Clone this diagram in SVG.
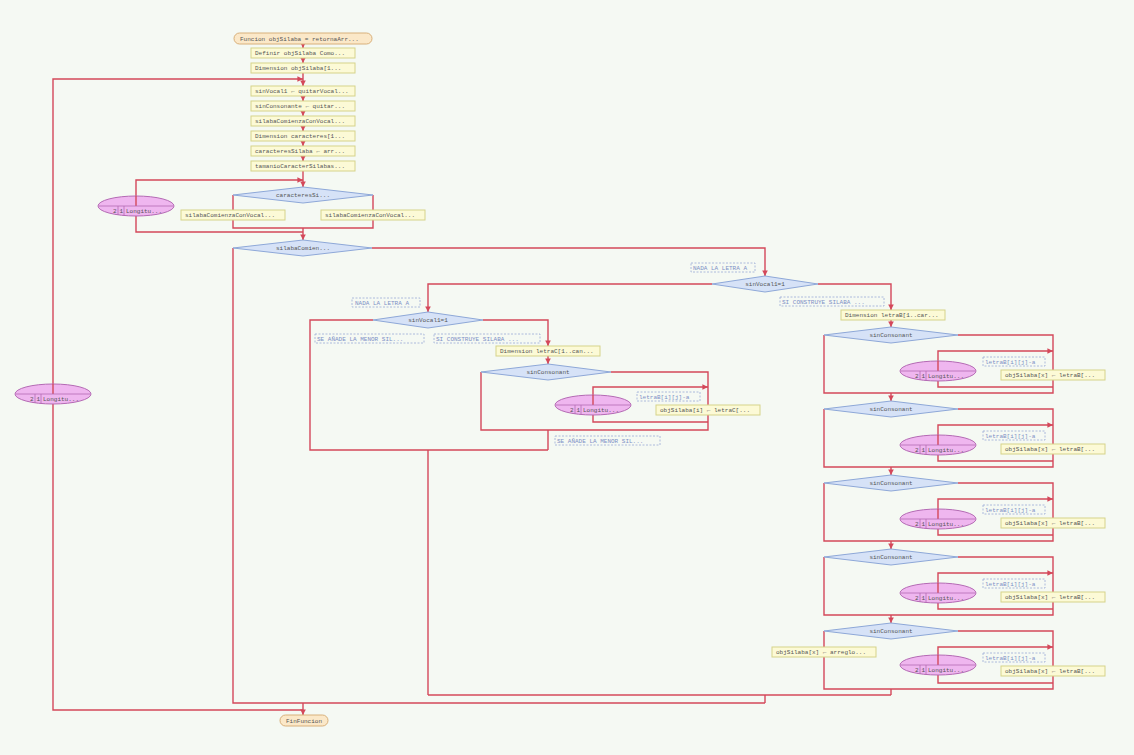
<svg xmlns="http://www.w3.org/2000/svg" width="1134" height="755" viewBox="0 0 1134 755">
<style>
.ln{stroke:#d4485a;stroke-width:1.4;fill:none}
.box{fill:#fcfad6;stroke:#d6d38a;stroke-width:1}
.dia{fill:#d6e2f7;stroke:#8ea8d8;stroke-width:1}
.ell{fill:#efb6ef;stroke:#b46ab4;stroke-width:1}
.term{fill:#fbe8c8;stroke:#d8b07a;stroke-width:1}
.cm{fill:none;stroke:#9aabd6;stroke-width:0.8;stroke-dasharray:2 1.5}
.sep{stroke:#b46ab4;stroke-width:0.8}
text{font-family:"Liberation Mono","DejaVu Sans Mono",monospace;font-size:6px;fill:#555}
text.c{fill:#7d8fc6}
text.m{text-anchor:middle}
</style>
<defs>
<marker id="ar" viewBox="0 0 6 6" refX="6" refY="3" markerWidth="4" markerHeight="4" orient="auto"><path d="M0,0 L6,3 L0,6 z" fill="#d4485a"/></marker>
<g id="para">
<ellipse class="ell" cx="0" cy="0" rx="38" ry="10"/>
<line class="ln" x1="0" y1="-10" x2="0" y2="0"/>
<line class="sep" x1="-37" y1="0" x2="37" y2="0"/>
<line class="sep" x1="-18" y1="0" x2="-18" y2="9"/>
<line class="sep" x1="-12" y1="0" x2="-12" y2="9.6"/>
<text x="-23" y="7">2</text><text x="-16.5" y="7">1</text><text x="-10" y="7">Longitu...</text>
</g>
</defs>
<rect width="1134" height="755" fill="#f5f9f3"/>

<g id="connectors">
<path class="ln" d="M303,44 V48" marker-end="url(#ar)"/>
<path class="ln" d="M303,58 V63" marker-end="url(#ar)"/>
<path class="ln" d="M303,73 V86" marker-end="url(#ar)"/>
<path class="ln" d="M303,96 V101" marker-end="url(#ar)"/>
<path class="ln" d="M303,111 V116" marker-end="url(#ar)"/>
<path class="ln" d="M303,126 V131" marker-end="url(#ar)"/>
<path class="ln" d="M303,141 V146" marker-end="url(#ar)"/>
<path class="ln" d="M303,156 V161" marker-end="url(#ar)"/>
<path class="ln" d="M303,171 V187" marker-end="url(#ar)"/>
<path class="ln" d="M53,384 V79 H303" marker-end="url(#ar)"/>
<path class="ln" d="M53,404 V710 H303"/>
<path class="ln" d="M136,196 V180 H303" marker-end="url(#ar)"/>
<path class="ln" d="M136,216 V232 H303"/>
<path class="ln" d="M233,195 V228 H373 V195"/>
<path class="ln" d="M303,228 V240" marker-end="url(#ar)"/>
<path class="ln" d="M233,248 V703 H765"/>
<path class="ln" d="M372,248 H765 V276" marker-end="url(#ar)"/>
<path class="ln" d="M303,703 V715" marker-end="url(#ar)"/>
<path class="ln" d="M712,284 H428 V312" marker-end="url(#ar)"/>
<path class="ln" d="M818,284 H891 V310" marker-end="url(#ar)"/>
<path class="ln" d="M891,320 V327" marker-end="url(#ar)"/>
<path class="ln" d="M428,695 H891"/>
<path class="ln" d="M765,695 V703"/>
<path class="ln" d="M373,320 H310 V450 H548"/>
<path class="ln" d="M483,320 H548 V346" marker-end="url(#ar)"/>
<path class="ln" d="M548,356 V364" marker-end="url(#ar)"/>
<path class="ln" d="M428,450 V695"/>
<path class="ln" d="M481,372 V430 H708 V372 H611"/>
<path class="ln" d="M548,430 V450"/>
<path class="ln" d="M593,395 V387 H708" marker-end="url(#ar)"/>
<path class="ln" d="M593,415 V422 H708"/>
<path class="ln" d="M824,335 V393 H1053 V335 H958"/>
<path class="ln" d="M938,361 V351 H1053" marker-end="url(#ar)"/>
<path class="ln" d="M938,381 V387 H1053"/>
<path class="ln" d="M891,393 V401" marker-end="url(#ar)"/>
<path class="ln" d="M824,409 V467 H1053 V409 H958"/>
<path class="ln" d="M938,435 V425 H1053" marker-end="url(#ar)"/>
<path class="ln" d="M938,455 V461 H1053"/>
<path class="ln" d="M891,467 V475" marker-end="url(#ar)"/>
<path class="ln" d="M824,483 V541 H1053 V483 H958"/>
<path class="ln" d="M938,509 V499 H1053" marker-end="url(#ar)"/>
<path class="ln" d="M938,529 V535 H1053"/>
<path class="ln" d="M891,541 V549" marker-end="url(#ar)"/>
<path class="ln" d="M824,557 V615 H1053 V557 H958"/>
<path class="ln" d="M938,583 V573 H1053" marker-end="url(#ar)"/>
<path class="ln" d="M938,603 V609 H1053"/>
<path class="ln" d="M891,615 V623" marker-end="url(#ar)"/>
<path class="ln" d="M824,631 V689 H1053 V631 H958"/>
<path class="ln" d="M938,655 V647 H1053" marker-end="url(#ar)"/>
<path class="ln" d="M938,675 V683 H1053"/>
<path class="ln" d="M891,689 V695"/>
</g>

<g id="n_start"><rect class="term" x="234" y="33" width="138" height="11" rx="5.5"/><text x="240" y="40.5">Funcion objSilaba = retornaArr...</text></g>
<g id="n1"><rect class="box" x="251" y="48" width="104" height="10"/><text x="255" y="55">Definir objSilaba Como...</text></g>
<g id="n2"><rect class="box" x="251" y="63" width="104" height="10"/><text x="255" y="70">Dimension objSilaba[1...</text></g>
<g id="n3"><rect class="box" x="251" y="86" width="104" height="10"/><text x="255" y="93">sinVocal1 ← quitarVocal...</text></g>
<g id="n4"><rect class="box" x="251" y="101" width="104" height="10"/><text x="255" y="108">sinConsonante ← quitar...</text></g>
<g id="n5"><rect class="box" x="251" y="116" width="104" height="10"/><text x="255" y="123">silabaComienzaConVocal...</text></g>
<g id="n6"><rect class="box" x="251" y="131" width="104" height="10"/><text x="255" y="138">Dimension caracteres[1...</text></g>
<g id="n7"><rect class="box" x="251" y="146" width="104" height="10"/><text x="255" y="153">caracteresSilaba ← arr...</text></g>
<g id="n8"><rect class="box" x="251" y="161" width="104" height="10"/><text x="255" y="168">tamanioCaracterSilabas...</text></g>

<g id="loop_big"><use href="#para" x="53" y="394"/></g>
<g id="loop_car"><use href="#para" x="136" y="206"/></g>

<g id="d_car"><polygon class="dia" points="303,187 373,195 303,203 233,195"/><text class="m" x="303" y="197">caracteresSi...</text></g>
<g id="b_car_l"><rect class="box" x="181" y="210" width="104" height="10"/><text x="185" y="217">silabaComienzaConVocal...</text></g>
<g id="b_car_r"><rect class="box" x="321" y="210" width="104" height="10"/><text x="325" y="217">silabaComienzaConVocal...</text></g>

<g id="d_sil"><polygon class="dia" points="303,240 372,248 303,256 233,248"/><text class="m" x="303" y="250">silabaComien...</text></g>

<g id="c1"><rect class="cm" x="691" y="263" width="64" height="9"/><text class="c" x="693" y="269.5">NADA LA LETRA A</text></g>
<g id="d_vocal"><polygon class="dia" points="765,276 818,284 765,292 712,284"/><text class="m" x="765" y="286">sinVocal1=1</text></g>
<g id="c2"><rect class="cm" x="780" y="297" width="104" height="9"/><text class="c" x="782" y="303.5">SI CONSTRUYE SILABA ...</text></g>
<g id="b_letraB"><rect class="box" x="841" y="310" width="104" height="10"/><text x="845" y="317">Dimension letraB[1..car...</text></g>

<g id="c3"><rect class="cm" x="352" y="298" width="68" height="9"/><text class="c" x="355" y="304.5">NADA LA LETRA A</text></g>
<g id="d_vocal2"><polygon class="dia" points="428,312 483,320 428,328 373,320"/><text class="m" x="428" y="322">sinVocal1=1</text></g>
<g id="c4"><rect class="cm" x="315" y="334" width="109" height="9"/><text class="c" x="317" y="340.5">SE AÑADE LA MENOR SIL...</text></g>
<g id="c5"><rect class="cm" x="434" y="334" width="106" height="9"/><text class="c" x="436" y="340.5">SI CONSTRUYE SILABA ...</text></g>
<g id="b_letraC"><rect class="box" x="496" y="346" width="104" height="10"/><text x="500" y="353">Dimension letraC[1..can...</text></g>
<g id="d_cons0"><polygon class="dia" points="548,364 611,372 548,380 481,372"/><text class="m" x="548" y="374">sinConsonant</text></g>
<g id="loop_m"><use href="#para" x="593" y="405"/></g>
<g id="c6"><rect class="cm" x="637" y="392" width="63" height="9"/><text class="c" x="639" y="398.5">letraB[i][j]-a</text></g>
<g id="b_m"><rect class="box" x="656" y="405" width="104" height="10"/><text x="660" y="412">objSilaba[i] ← letraC[...</text></g>
<g id="c7"><rect class="cm" x="555" y="436" width="105" height="9"/><text class="c" x="557" y="442.5">SE AÑADE LA MENOR SIL...</text></g>

<g id="d_cons1"><polygon class="dia" points="891,327 958,335 891,343 824,335"/><text class="m" x="891" y="337">sinConsonant</text></g>
<g id="loop1"><use href="#para" x="938" y="371"/></g>
<g id="c8"><rect class="cm" x="983" y="357" width="62" height="9"/><text class="c" x="985" y="363.5">letraB[i][j]-a</text></g>
<g id="b1"><rect class="box" x="1001" y="370" width="104" height="10"/><text x="1005" y="377">objSilaba[x] ← letraB[...</text></g>

<g id="d_cons2"><polygon class="dia" points="891,401 958,409 891,417 824,409"/><text class="m" x="891" y="411">sinConsonant</text></g>
<g id="loop2"><use href="#para" x="938" y="445"/></g>
<g id="c9"><rect class="cm" x="983" y="431" width="62" height="9"/><text class="c" x="985" y="437.5">letraB[i][j]-a</text></g>
<g id="b2"><rect class="box" x="1001" y="444" width="104" height="10"/><text x="1005" y="451">objSilaba[x] ← letraB[...</text></g>

<g id="d_cons3"><polygon class="dia" points="891,475 958,483 891,491 824,483"/><text class="m" x="891" y="485">sinConsonant</text></g>
<g id="loop3"><use href="#para" x="938" y="519"/></g>
<g id="c10"><rect class="cm" x="983" y="505" width="62" height="9"/><text class="c" x="985" y="511.5">letraB[i][j]-a</text></g>
<g id="b3"><rect class="box" x="1001" y="518" width="104" height="10"/><text x="1005" y="525">objSilaba[x] ← letraB[...</text></g>

<g id="d_cons4"><polygon class="dia" points="891,549 958,557 891,565 824,557"/><text class="m" x="891" y="559">sinConsonant</text></g>
<g id="loop4"><use href="#para" x="938" y="593"/></g>
<g id="c11"><rect class="cm" x="983" y="579" width="62" height="9"/><text class="c" x="985" y="585.5">letraB[i][j]-a</text></g>
<g id="b4"><rect class="box" x="1001" y="592" width="104" height="10"/><text x="1005" y="599">objSilaba[x] ← letraB[...</text></g>

<g id="d_cons5"><polygon class="dia" points="891,623 958,631 891,639 824,631"/><text class="m" x="891" y="633">sinConsonant</text></g>
<g id="b5l"><rect class="box" x="772" y="647" width="104" height="10"/><text x="776" y="654">objSilaba[x] ← arreglo...</text></g>
<g id="loop5"><use href="#para" x="938" y="665"/></g>
<g id="c12"><rect class="cm" x="983" y="653" width="62" height="9"/><text class="c" x="985" y="659.5">letraB[i][j]-a</text></g>
<g id="b5"><rect class="box" x="1001" y="666" width="104" height="10"/><text x="1005" y="673">objSilaba[x] ← letraB[...</text></g>

<g id="n_end"><rect class="term" x="280" y="715" width="48" height="11" rx="5.5"/><text class="m" x="304" y="722.5">FinFuncion</text></g>
</svg>
